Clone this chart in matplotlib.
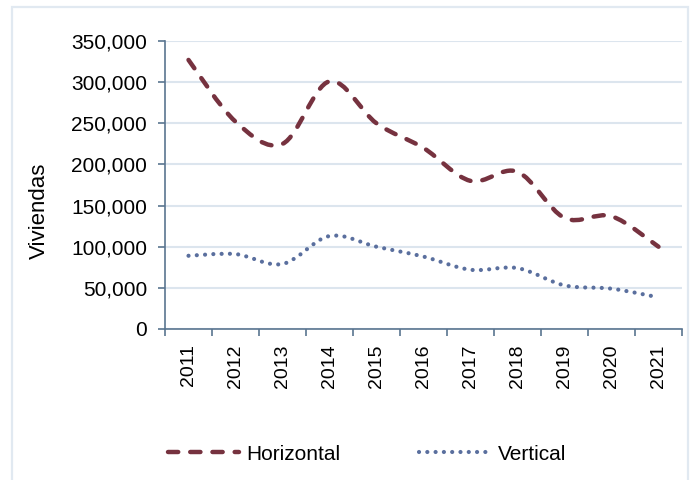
import matplotlib
matplotlib.use('Agg')
import matplotlib.pyplot as plt
import numpy as np
from matplotlib.path import Path
from matplotlib.patches import PathPatch, Rectangle
from matplotlib.lines import Line2D
import matplotlib.ticker as ticker

plt.rcParams['font.family'] = ['Liberation Sans', 'DejaVu Sans']

# Data
years = ['2011', '2012', '2013', '2014', '2015', '2016',
         '2017', '2018', '2019', '2020', '2021']
horizontal = [327000, 252000, 225000, 301000, 250000, 220000,
              180000, 191000, 135000, 137000, 100000]
vertical = [89000, 91000, 79000, 113000, 100000, 88000,
            72000, 74000, 53000, 49000, 38500]

c_hor = '#76323F'
c_ver = '#5A6F9E'
c_axis = '#5A7590'
c_grid = '#DCE5EE'

dash_hor = (0, (2.3, 2.7))
dot_ver = (0, (0.01, 1.98))


def smooth_path(x, y):
    # Excel-like smoothed line: Catmull-Rom segments as cubic Bezier
    x = np.asarray(x, float)
    y = np.asarray(y, float)
    n = len(x)
    verts = [(x[0], y[0])]
    codes = [Path.MOVETO]
    for i in range(n - 1):
        i0 = max(i - 1, 0)
        i3 = min(i + 2, n - 1)
        c1 = (x[i] + (x[i + 1] - x[i0]) / 6., y[i] + (y[i + 1] - y[i0]) / 6.)
        c2 = (x[i + 1] - (x[i3] - x[i]) / 6., y[i + 1] - (y[i3] - y[i]) / 6.)
        verts += [c1, c2, (x[i + 1], y[i + 1])]
        codes += [Path.CURVE4] * 3
    return Path(verts, codes)


fig = plt.figure(figsize=(6.92, 4.8), dpi=100)
ax = fig.add_axes([165 / 692., 1 - 329 / 480., 517 / 692., 288 / 480.])

xpos = np.arange(len(years))

p1 = PathPatch(smooth_path(xpos, horizontal), fill=False, edgecolor=c_hor,
               linewidth=3.2, linestyle=dash_hor, capstyle='round', zorder=3)
p2 = PathPatch(smooth_path(xpos, vertical), fill=False, edgecolor=c_ver,
               linewidth=3, linestyle=dot_ver, capstyle='round', zorder=3)
ax.add_patch(p1)
ax.add_patch(p2)

ax.set_xlim(-0.5, len(years) - 0.5)
ax.set_ylim(0, 350000)

ax.yaxis.set_major_locator(ticker.MultipleLocator(50000))
ax.yaxis.set_major_formatter(ticker.FuncFormatter(lambda v, p: '{:,.0f}'.format(v)))
ax.set_xticks(xpos)
ax.set_xticklabels(years, rotation=90)
ax.set_xticks(np.arange(len(years) + 1) - 0.5, minor=True)

ax.tick_params(axis='x', which='major', length=0, pad=11, labelsize=14)
ax.tick_params(axis='x', which='minor', length=5, width=1.2, color=c_axis, direction='out')
ax.tick_params(axis='y', length=5, width=1.2, color=c_axis, pad=8, labelsize=15)

for s in ['top', 'right']:
    ax.spines[s].set_visible(False)
for s in ['left', 'bottom']:
    ax.spines[s].set_color(c_axis)
    ax.spines[s].set_linewidth(1.2)

ax.grid(axis='y', color=c_grid, linewidth=1.5, zorder=0)
ax.set_axisbelow(True)

ax.set_ylabel('Viviendas', fontsize=16)
ax.yaxis.set_label_coords(-0.222, 0.41)

handles = [Line2D([], [], color=c_hor, linewidth=3.2, linestyle=dash_hor,
                  dash_capstyle='round'),
           Line2D([], [], color=c_ver, linewidth=3, linestyle=dot_ver,
                  dash_capstyle='round')]
fig.legend(handles, ['Horizontal', 'Vertical'], loc='center',
           bbox_to_anchor=(0.53, 1 - 454 / 480.), ncol=2, frameon=False,
           fontsize=15, handlelength=3.4, handletextpad=0.38, columnspacing=3.75)

# light frame around the chart
fig.patches.append(Rectangle((12 / 692., -0.05), 676 / 692., 1.05 - 7 / 480.,
                             transform=fig.transFigure, fill=False,
                             edgecolor='#E1E9F1', linewidth=1.6))

fig.savefig('out.png', dpi=100)
